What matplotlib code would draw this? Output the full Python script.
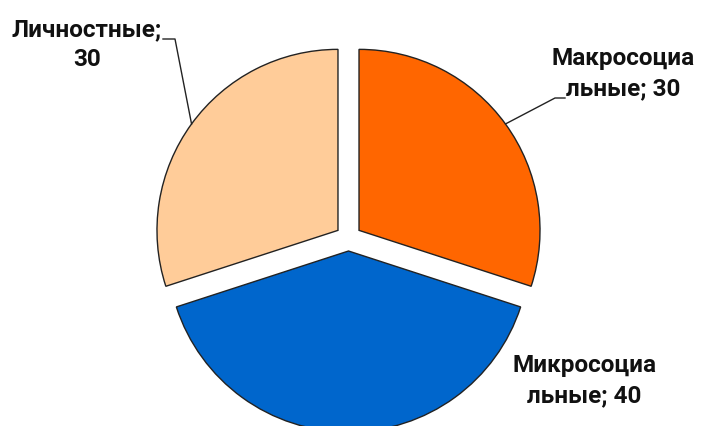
import numpy as np
import matplotlib.pyplot as plt

# values
labels = ['Макросоциальные', 'Микросоциальные', 'Личностные']
label_text = ['Макросоциа\nльные; 30', 'Микросоциа\nльные; 40', 'Личностные;\n30']
values = [30, 40, 30]
colors = ['#FF6600', '#0066CC', '#FFCC99']

W, H = 701, 426
fig = plt.figure(figsize=(W / 100, H / 100), dpi=100)
ax = fig.add_axes([0, 0, 1, 1])

cx, cy = 348.5, H - 238
r = 181
# explode is in data units here (pixels)
wedges, _ = ax.pie(values, colors=colors, startangle=90, counterclock=False,
                   explode=[13] * 3, center=(cx, cy), radius=r, frame=True,
                   wedgeprops=dict(edgecolor='#222222', linewidth=1.0))
ax.set_xlim(0, W)
ax.set_ylim(0, H)
ax.axis('off')

font = dict(family=['Roboto', 'DejaVu Sans'], weight='bold', size=17.5,
            color='#111111', ha='center', va='center', linespacing=1.4)

# label block centres (image pixels, y from top)
text_pos = [(623, 73.5), (584, 381), (87, 44.5)]
# leader line elbows: (elbow, end) or None
leaders = [((555, 98), (565, 98)), None, ((175, 39), (163, 39))]

for w, txt, (tx, ty), ld in zip(wedges, label_text, text_pos, leaders):
    ax.text(tx, H - ty, txt, **font)
    if ld is None:
        continue
    ang = np.deg2rad((w.theta1 + w.theta2) / 2)
    px = w.center[0] + r * np.cos(ang)
    py = w.center[1] + r * np.sin(ang)
    xs = [px, ld[0][0], ld[1][0]]
    ys = [py, H - ld[0][1], H - ld[1][1]]
    ax.plot(xs, ys, color='#222222', lw=1.0)

fig.savefig('out.png', dpi=100)
